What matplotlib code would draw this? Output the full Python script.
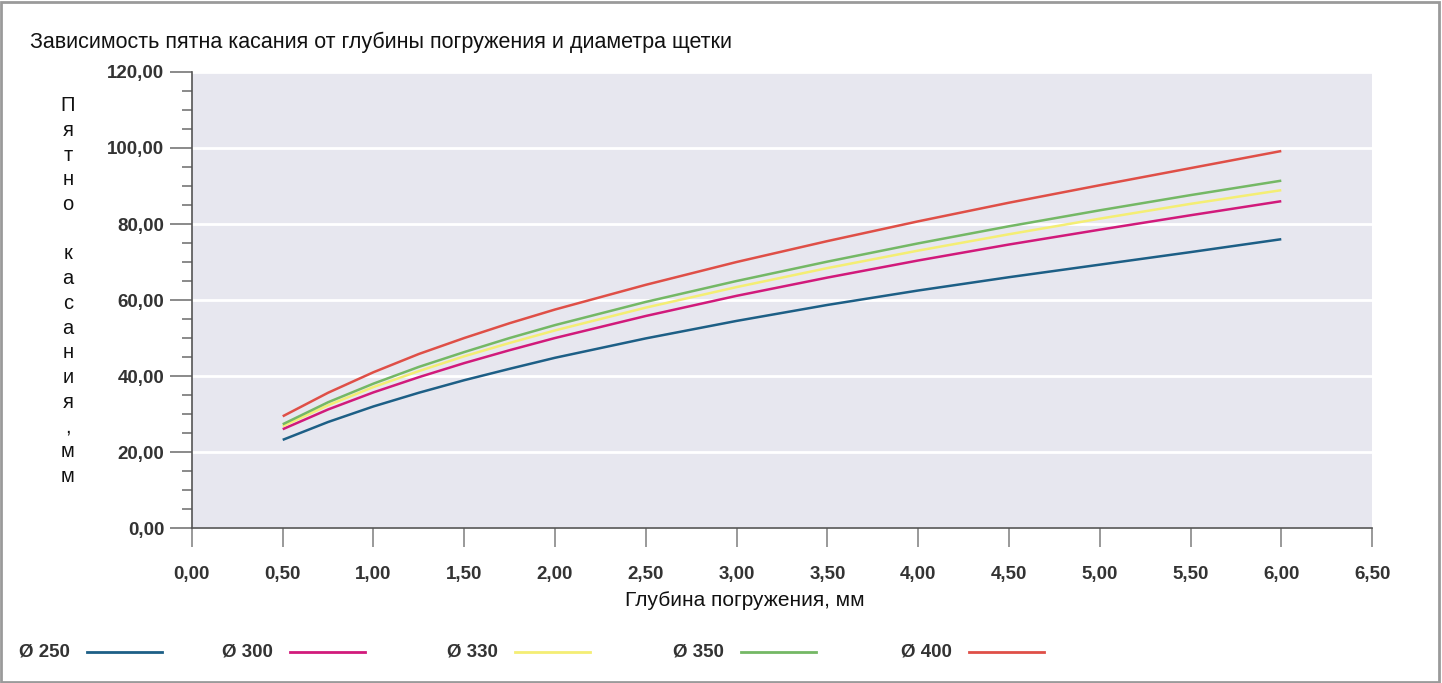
import matplotlib
matplotlib.use("Agg")
import matplotlib.pyplot as plt
from matplotlib.lines import Line2D
from matplotlib.patches import Rectangle
from matplotlib.ticker import MultipleLocator, FuncFormatter

# depth of immersion, mm
depth = [0.5, 0.75, 1.0, 1.25, 1.5, 1.75, 2.0, 2.5, 3.0, 3.5, 4.0, 4.5, 5.0, 5.5, 6.0]

# contact patch, mm
d250 = [23.2, 27.9, 32.0, 35.6, 38.9, 41.9, 44.8, 49.9, 54.5, 58.7, 62.5, 66.0, 69.3, 72.6, 76.0]
d300 = [26.0, 31.2, 35.7, 39.7, 43.4, 46.8, 50.0, 55.8, 61.1, 65.9, 70.4, 74.6, 78.5, 82.3, 86.0]
d330 = [26.8, 32.3, 37.1, 41.3, 45.2, 48.7, 52.0, 58.0, 63.4, 68.4, 73.0, 77.3, 81.4, 85.3, 88.9]
d350 = [27.3, 33.1, 38.0, 42.4, 46.3, 50.0, 53.4, 59.5, 65.0, 70.1, 74.9, 79.4, 83.6, 87.6, 91.4]
d400 = [29.4, 35.6, 41.0, 45.8, 50.0, 53.9, 57.5, 64.0, 70.0, 75.5, 80.7, 85.6, 90.2, 94.7, 99.2]

labels = ["Ø 250", "Ø 300", "Ø 330", "Ø 350", "Ø 400"]
series = [d250, d300, d330, d350, d400]
colors = ["#1d5f86", "#d11a7b", "#f4ee74", "#74b865", "#df4f47"]

title = "Зависимость пятна касания от глубины погружения и диаметра щетки"
xlabel = "Глубина погружения, мм"
ylabel = "Пятно касания, мм"

plt.rcParams["font.family"] = ["Liberation Sans", "DejaVu Sans"]
tick_font = ["Liberation Sans", "DejaVu Sans"]

fig = plt.figure(figsize=(14.42, 6.83), dpi=100)
fig.patch.set_facecolor("white")
fig.add_artist(Rectangle((0.001, 0.002), 0.997, 0.995, transform=fig.transFigure,
                         fill=False, edgecolor="#9a9a9a", linewidth=2))

ax = fig.add_axes([0.1331, 0.2269, 0.8184, 0.6677])
ax.set_facecolor("#e7e7ef")
ax.set_xlim(0, 6.5)
ax.set_ylim(0, 120)

ax.yaxis.set_major_locator(MultipleLocator(20))
ax.yaxis.set_minor_locator(MultipleLocator(5))
ax.xaxis.set_major_locator(MultipleLocator(0.5))
ax.grid(axis="y", which="major", color="white", linewidth=2)
ax.set_axisbelow(True)

for s in ["top", "right"]:
    ax.spines[s].set_visible(False)
for s in ["left", "bottom"]:
    ax.spines[s].set_color("#555555")
    ax.spines[s].set_linewidth(1.2)

ax.tick_params(axis="y", which="major", length=16, width=1.2, color="#777777", pad=4)
ax.tick_params(axis="y", which="minor", length=7, width=1.2, color="#777777")
ax.tick_params(axis="x", which="major", length=14, width=1.2, color="#888888", pad=13)

fmt = FuncFormatter(lambda v, p: f"{v:.2f}".replace(".", ","))
ax.xaxis.set_major_formatter(fmt)
ax.yaxis.set_major_formatter(fmt)
for lab in ax.get_xticklabels() + ax.get_yticklabels():
    lab.set_family(tick_font)
    lab.set_fontweight("bold")
    lab.set_fontsize(13.5)
    lab.set_color("#333333")

for ys, c in zip(series, colors):
    ax.plot(depth, ys, color=c, linewidth=1.8, solid_capstyle="butt")

fig.text(0.021, 0.938, title, fontsize=15.5, color="#111111", va="center", ha="left")
fig.text(0.5165, 0.121, xlabel, fontsize=15, color="#111111", va="center", ha="center")
fig.text(0.047, 0.574, "\n".join(ylabel.replace(", ", ",")), fontsize=14.5, color="#111111",
         va="center", ha="center", linespacing=1.38)

# legend drawn along the bottom
leg_x = [0.013, 0.154, 0.310, 0.467, 0.625]
for i, (lab, c) in enumerate(zip(labels, colors)):
    x0 = leg_x[i]
    fig.text(x0, 0.045, lab, family=tick_font, fontweight="bold", fontsize=13.5,
             color="#333333", va="center", ha="left")
    fig.add_artist(Line2D([x0 + 0.047, x0 + 0.099], [0.045, 0.045],
                          transform=fig.transFigure, color=c, linewidth=2))

fig.savefig("out.png", dpi=100, facecolor="white")
